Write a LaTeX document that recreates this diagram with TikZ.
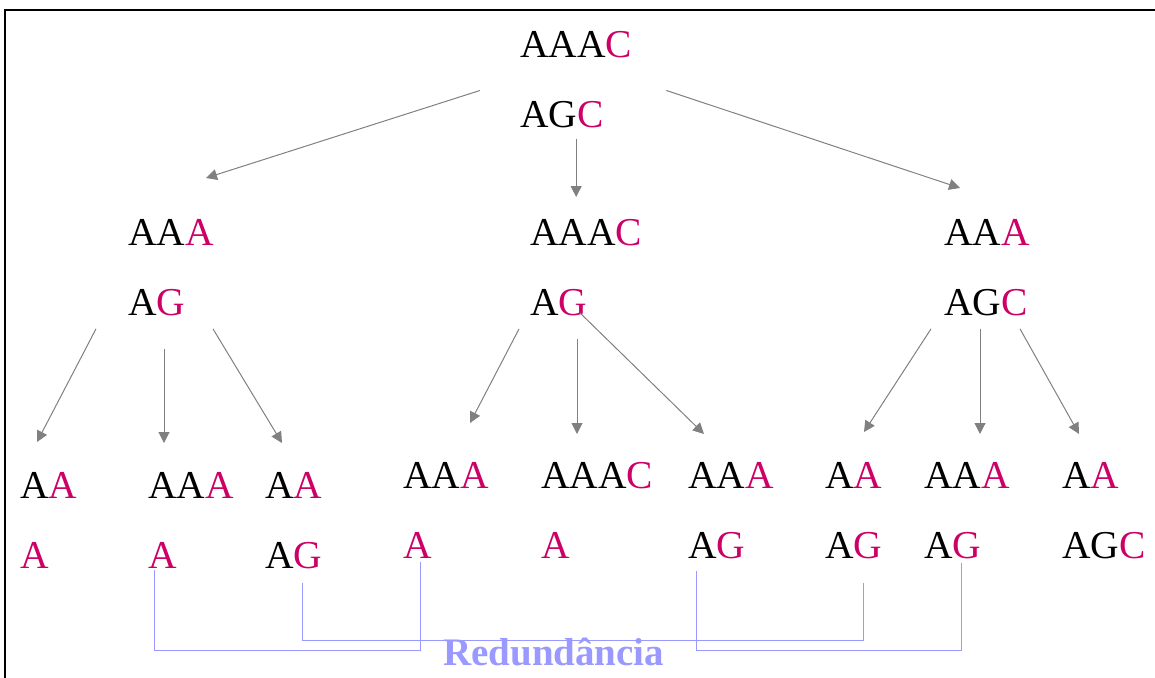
\documentclass[tikz,border=0pt]{standalone}
\usepackage{fontspec}
\setmainfont{Liberation Serif}
\usetikzlibrary{arrows.meta}

\definecolor{mutred}{HTML}{CC0066}
\definecolor{redblue}{HTML}{9999FF}
\newcommand{\mut}[1]{\textcolor{mutred}{#1}}

\begin{document}
\begin{tikzpicture}[x=1pt, y=-1pt,
  every node/.style = {inner sep=0pt, anchor=north west, align=left,
    font=\fontsize{39.5}{70}\selectfont},
  arr/.style = {draw=gray, line width=1pt, -{Triangle[length=11pt,width=11pt]}},
  redun/.style = {draw=redblue, line width=1pt}]

  \useasboundingbox (0,0) rectangle (1155,677);
  \draw[line width=2pt] (5,700) -- (5,10) -- (1170,10);

  % root and first split
  \node (root) at (520,31) {AAA\mut{C}\\AG\mut{C}};
  \node (l) at (128,219) {AA\mut{A}\\A\mut{G}};
  \node (m) at (530,219) {AAA\mut{C}\\A\mut{G}};
  \node (r) at (944,219) {AA\mut{A}\\AG\mut{C}};

  % leaves
  \node (la) at (20,472)  {A\mut{A}\\\mut{A}};
  \node (lb) at (148,472) {AA\mut{A}\\\mut{A}};
  \node (lc) at (265,472) {A\mut{A}\\A\mut{G}};
  \node (ma) at (403,462) {AA\mut{A}\\\mut{A}};
  \node (mb) at (541,462) {AAA\mut{C}\\\mut{A}};
  \node (mc) at (688,462) {AA\mut{A}\\A\mut{G}};
  \node (ra) at (825,462) {A\mut{A}\\A\mut{G}};
  \node (rb) at (924,462) {AA\mut{A}\\A\mut{G}};
  \node (rc) at (1062,462) {A\mut{A}\\AG\mut{C}};

  \draw[arr] ([shift={(-40,11)}]root.west) -- ([shift={(-8,-41)}]l.north east);
  \draw[arr, shorten <=11pt, shorten >=22pt] (root.south) -- (root.south |- m.north);
  \draw[arr] ([shift={(34,11)}]root.east) -- ([shift={(16,-31)}]r.north west);

  \draw[arr] ([shift={(-32,13)}]l.south west) -- ([shift={(17,-30)}]la.north west);
  \draw[arr] ([shift={(36,33)}]l.south west) -- ([shift={(16,-29)}]lb.north west);
  \draw[arr] ([shift={(85,13)}]l.south west) -- ([shift={(17,-29)}]lc.north west);

  \draw[arr] ([shift={(-11,13)}]m.south west) -- ([shift={(67,-39)}]ma.north west);
  \draw[arr] ([shift={(47,23)}]m.south west) -- ([shift={(36,-28)}]mb.north west);
  \draw[arr] ([shift={(50,-3)}]m.south west) -- ([shift={(16,-28)}]mc.north west);

  \draw[arr] ([shift={(-13,13)}]r.south west) -- ([shift={(39,-30)}]ra.north west);
  \draw[arr] ([shift={(36,13)}]r.south west) -- ([shift={(56,-28)}]rb.north west);
  \draw[arr] ([shift={(76,13)}]r.south west) -- ([shift={(17,-28)}]rc.north west);

  % repeated states
  \draw[redun] ([shift={(6,2)}]lb.south west) -- ++(0,80) -| ([shift={(17,4)}]ma.south west);
  \draw[redun] ([shift={(37,14)}]lc.south west) -- ++(0,58) -| ([shift={(38,24)}]ra.south west);
  \draw[redun] ([shift={(8,12)}]mc.south west) -- ++(0,80) -| ([shift={(37,4)}]rb.south west);
  \node[anchor=base west, text=redblue, font=\fontsize{39}{40}\selectfont\bfseries]
    (red) at (443,665) {Redundância};
\end{tikzpicture}
\end{document}
